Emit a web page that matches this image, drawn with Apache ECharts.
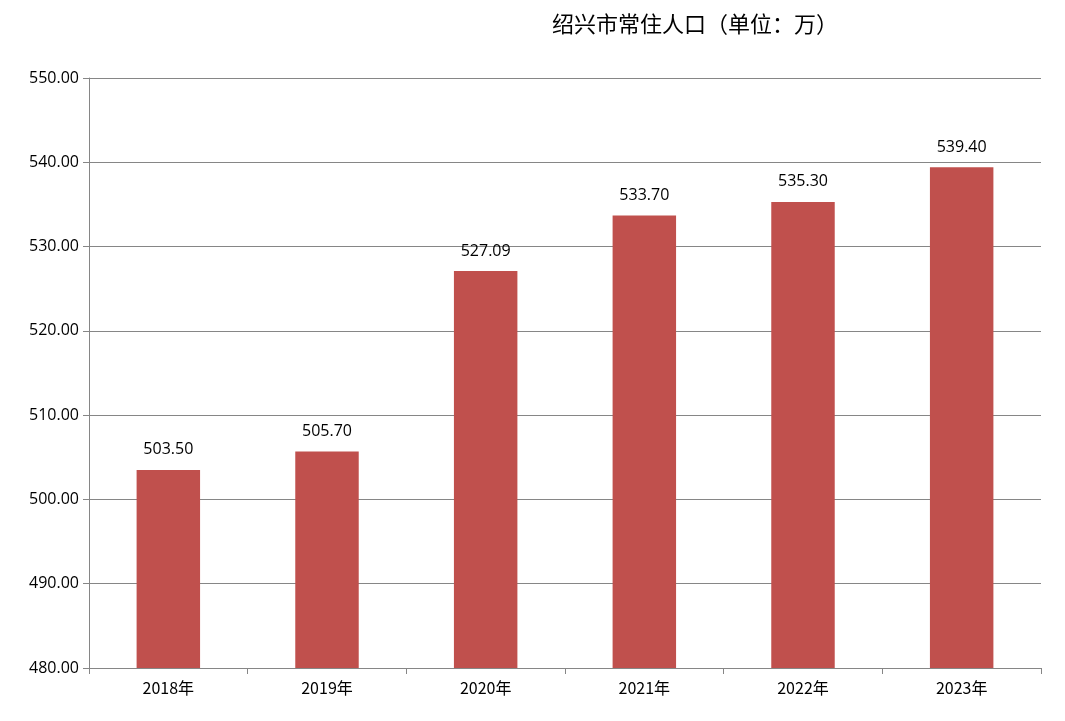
<!DOCTYPE html>
<html><head><meta charset="utf-8">
<script src="https://cdn.jsdelivr.net/npm/echarts@6/dist/echarts.min.js"></script>
<style>html,body{margin:0;padding:0;background:#fff}#main{width:1065px;height:721px}</style>
</head><body><div id="main"></div>
<script>
// 绍兴市常住人口
var years = ["2018年", "2019年", "2020年", "2021年", "2022年", "2023年"];
var population = [503.50, 505.70, 527.09, 533.70, 535.30, 539.40];

var chart = echarts.init(document.getElementById("main"));
var option = {
    animation: false,
    title: {
        text: "绍兴市常住人口（单位：万）",
        left: 690, top: 8, textAlign: "center",
        textStyle: { fontFamily: "Noto Sans CJK SC", fontSize: 22, fontWeight: "normal", color: "#000" }
    },
    grid: { left: 89, right: 24, top: 78, bottom: 53, containLabel: false },
    xAxis: {
        type: "category",
        data: years,
        axisLine: { lineStyle: { color: "#868686" } },
        axisTick: { show: true, length: 6, lineStyle: { color: "#868686" } },
        axisLabel: { color: "#000", fontSize: 16, fontFamily: "Noto Sans CJK SC", margin: 12 }
    },
    yAxis: {
        type: "value",
        min: 480, max: 550, interval: 10,
        axisLine: { show: true, lineStyle: { color: "#868686" } },
        axisTick: { show: true, length: 6, lineStyle: { color: "#868686" } },
        splitLine: { lineStyle: { color: "#868686" } },
        axisLabel: {
            color: "#000", fontSize: 16, fontFamily: "Open Sans", margin: 10,
            formatter: function (v) { return v.toFixed(2); }
        }
    },
    series: [{
        type: "bar",
        data: population,
        barWidth: "40%",
        itemStyle: { color: "#C0504D" },
        label: {
            show: true, position: "top", distance: 12,
            color: "#000", fontSize: 16, fontFamily: "Open Sans",
            formatter: function (p) { return p.value.toFixed(2); }
        }
    }]
};
chart.setOption(option);
</script></body></html>
